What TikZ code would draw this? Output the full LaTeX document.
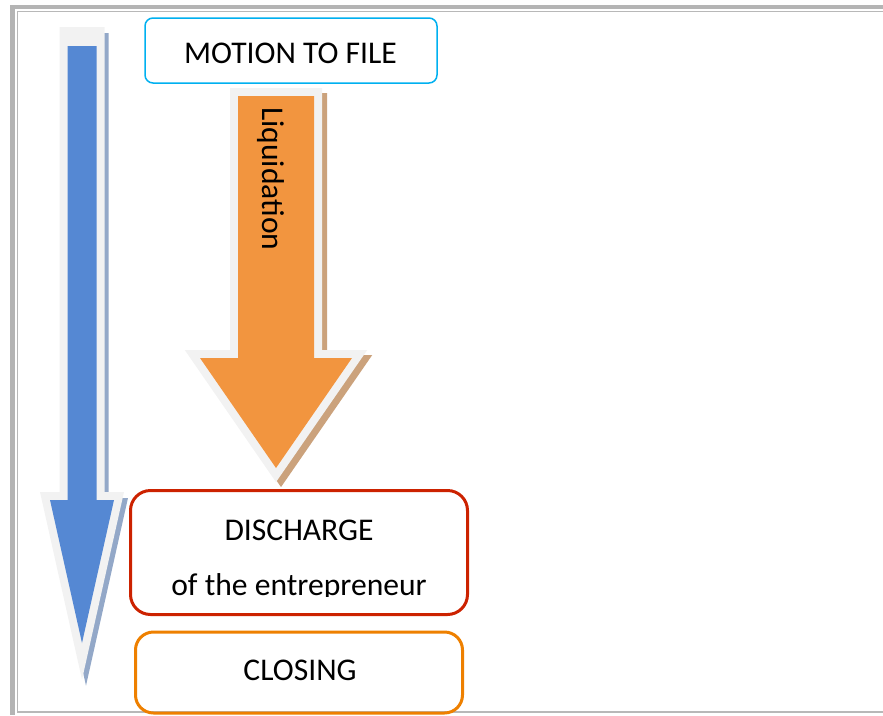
\documentclass[tikz,border=0pt]{standalone}
\usepackage{fontspec}
\setmainfont{Carlito}
\definecolor{arrowblue}{HTML}{5588D3}
\definecolor{arroworange}{HTML}{F2953F}
\definecolor{rimgray}{HTML}{F2F2F2}
\definecolor{shadeblue}{HTML}{93A8C8}
\definecolor{shadeorange}{HTML}{CBA27C}
\definecolor{boxcyan}{HTML}{00B0F0}
\definecolor{boxred}{HTML}{CC2200}
\definecolor{boxorange}{HTML}{EE8000}
\definecolor{framegray}{HTML}{B4B4B4}
\definecolor{lightline}{HTML}{B8B8B8}
\begin{document}
\begin{tikzpicture}[x=1pt,y=-1pt,
  lbl/.style={font=\fontsize{31.6}{38}\selectfont, inner sep=0pt, text=black},
  stagebox/.style={draw, rounded corners=#1, inner sep=0pt},
  rim/.style={draw=rimgray, line width=16pt, miter limit=10},
  shade/.style={fill=#1, draw=#1, line width=16pt, miter limit=10}]
\useasboundingbox (0,0) rectangle (883,715);

% page frame
\fill[framegray] (10,5) rectangle (883,9);
\fill[framegray] (10,5) rectangle (15,715);
\draw[lightline, line width=0.8pt] (17,11.5) -- (883,11.5);
\draw[lightline, line width=0.8pt] (17.5,11) -- (17.5,712);
\draw[lightline, line width=1.2pt] (17,712) -- (883,712);

% long blue timeline arrow (its rim reaches higher than the fill)
\def\bluerim{(67.5,35) -- (96.5,35) -- (96.5,500) -- (114,500) -- (82,643) -- (50,500) -- (67.5,500) -- cycle}
\def\bluearrow{(67.5,46) -- (96.5,46) -- (96.5,500) -- (114,500) -- (82,643) -- (50,500) -- (67.5,500) -- cycle}
\path[shade=shadeblue, xshift=4pt, yshift=-6pt] \bluerim;
\draw[rim] \bluerim;
\fill[rimgray] (67.5,35) rectangle (96.5,46);
\fill[arrowblue] \bluearrow;

% orange liquidation arrow
\def\orangearrow{(238,96) -- (314,96) -- (314,358) -- (352,358) -- (276,468) -- (200,358) -- (238,358) -- cycle}
\path[shade=shadeorange, xshift=5pt, yshift=-5pt] \orangearrow;
\draw[rim] \orangearrow;
\fill[arroworange] \orangearrow;
\node[lbl, rotate=-90, anchor=base west] (liq) at (262,107) {Liquidation};

% stage boxes
\node[stagebox=8pt, draw=boxcyan, line width=1.5pt, minimum width=292pt, minimum height=65pt] (motion) at (291,50.5) {};
\node[lbl, anchor=base] (motiontxt) at (290.5,63) {MOTION TO FILE};

\node[stagebox=20pt, draw=boxred, line width=3pt, minimum width=337pt, minimum height=124pt] (discharge) at (299,552.5) {};
\node[lbl, anchor=base] (dischargetxt) at (299,540) {DISCHARGE};
\begin{scope}
  \clip (132,492) rectangle (466,596);
  \node[lbl, anchor=base] (ofthe) at (299,595.5) {of the entrepreneur};
\end{scope}

\node[stagebox=18pt, draw=boxorange, line width=3pt, minimum width=327pt, minimum height=81pt] (closing) at (299,672.5) {};
\node[lbl, anchor=base] (closingtxt) at (300,680) {CLOSING};
\end{tikzpicture}
\end{document}
